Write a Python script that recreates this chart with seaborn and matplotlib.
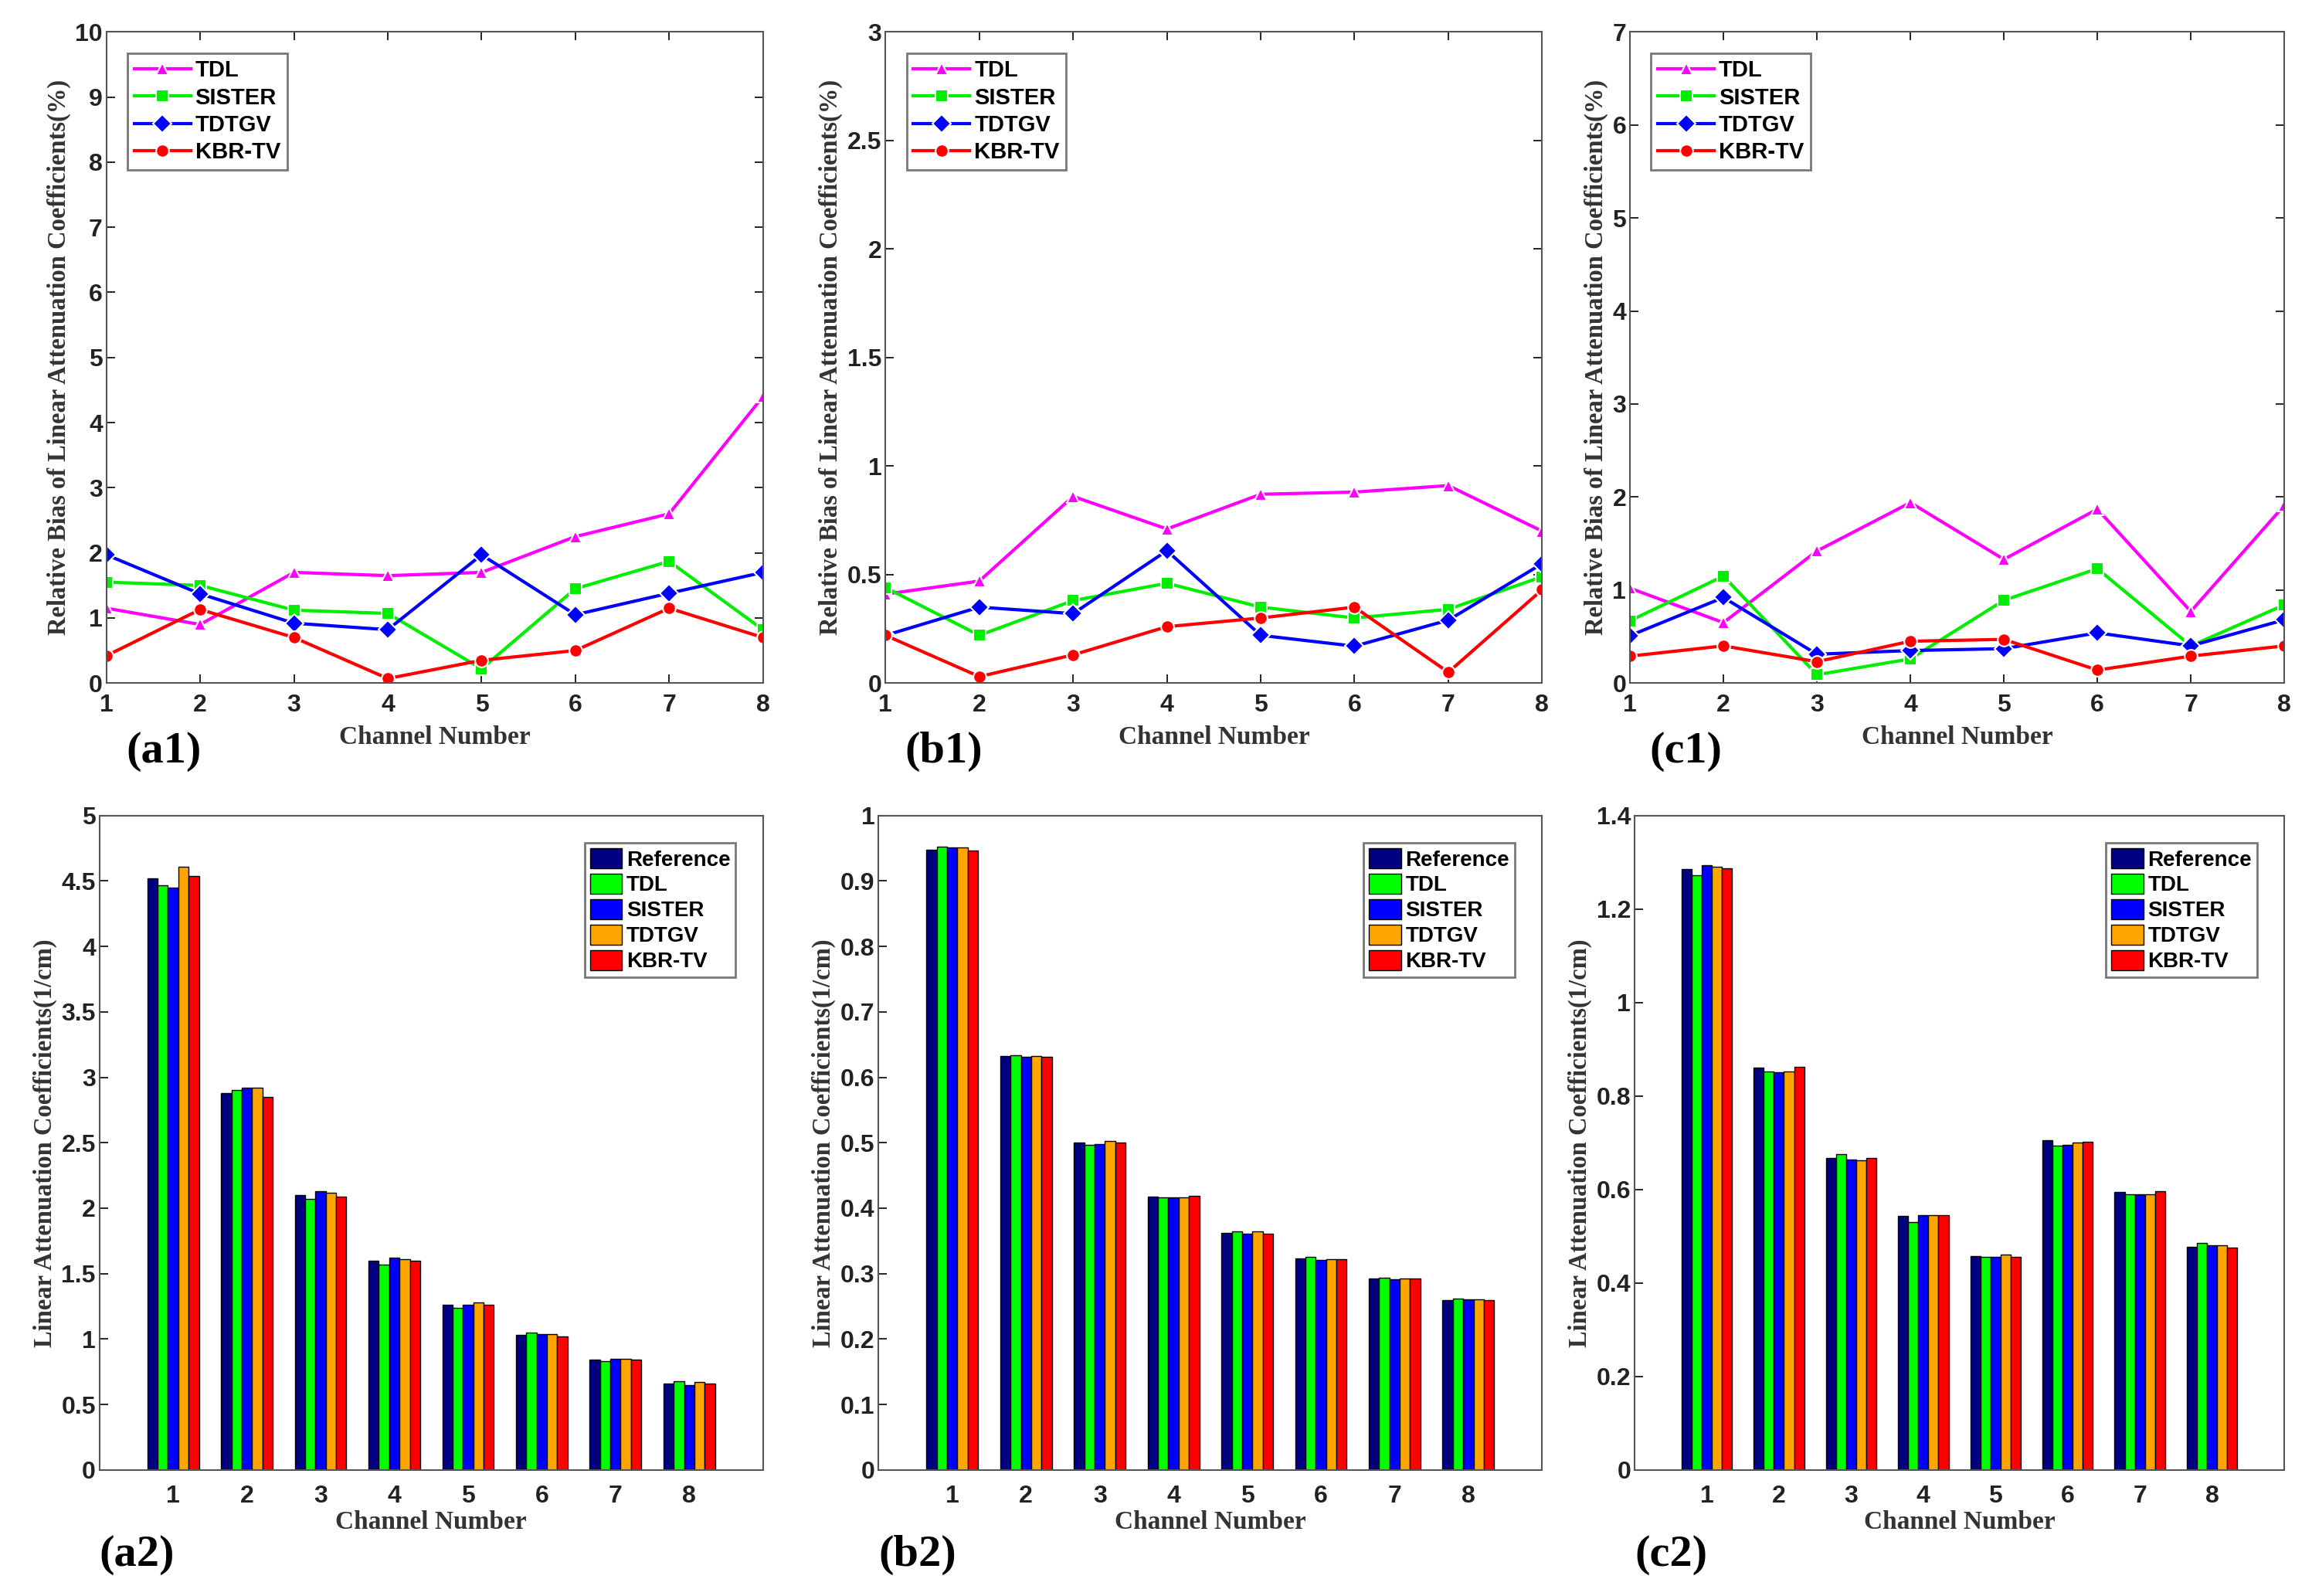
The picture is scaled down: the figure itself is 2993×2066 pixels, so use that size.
import numpy as np
import pandas as pd
import matplotlib
matplotlib.use("Agg")
import matplotlib.pyplot as plt
import seaborn as sns

channels = [1, 2, 3, 4, 5, 6, 7, 8]
methods = ["TDL", "SISTER", "TDTGV", "KBR-TV"]
bar_methods = ["Reference", "TDL", "SISTER", "TDTGV", "KBR-TV"]

a1_TDL = [1.15, 0.9, 1.7, 1.65, 1.7, 2.25, 2.6, 4.4]
a1_SISTER = [1.55, 1.5, 1.12, 1.07, 0.22, 1.45, 1.87, 0.82]
a1_TDTGV = [1.97, 1.37, 0.92, 0.82, 1.97, 1.05, 1.38, 1.7]
a1_KBR = [0.42, 1.13, 0.7, 0.07, 0.35, 0.5, 1.15, 0.7]

b1_TDL = [0.41, 0.47, 0.86, 0.71, 0.87, 0.88, 0.91, 0.70]
b1_SISTER = [0.44, 0.22, 0.38, 0.46, 0.35, 0.30, 0.34, 0.49]
b1_TDTGV = [0.22, 0.35, 0.32, 0.61, 0.22, 0.17, 0.29, 0.55]
b1_KBR = [0.22, 0.03, 0.13, 0.26, 0.30, 0.35, 0.05, 0.43]

c1_TDL = [1.02, 0.65, 1.42, 1.94, 1.33, 1.87, 0.77, 1.91]
c1_SISTER = [0.67, 1.15, 0.09, 0.26, 0.89, 1.23, 0.40, 0.84]
c1_TDTGV = [0.51, 0.92, 0.31, 0.35, 0.37, 0.54, 0.40, 0.68]
c1_KBR = [0.29, 0.40, 0.23, 0.45, 0.47, 0.14, 0.29, 0.40]

a2_Ref = [4.52, 2.88, 2.10, 1.60, 1.26, 1.03, 0.84, 0.66]
a2_TDL = [4.47, 2.90, 2.07, 1.57, 1.24, 1.05, 0.83, 0.68]
a2_SISTER = [4.45, 2.92, 2.13, 1.62, 1.26, 1.04, 0.85, 0.65]
a2_TDTGV = [4.61, 2.92, 2.12, 1.61, 1.28, 1.04, 0.85, 0.67]
a2_KBR = [4.54, 2.85, 2.09, 1.60, 1.26, 1.02, 0.84, 0.66]

b2_Ref = [0.948, 0.632, 0.500, 0.418, 0.362, 0.323, 0.292, 0.260]
b2_TDL = [0.952, 0.634, 0.497, 0.416, 0.365, 0.326, 0.294, 0.262]
b2_SISTER = [0.951, 0.631, 0.498, 0.416, 0.361, 0.321, 0.291, 0.261]
b2_TDTGV = [0.951, 0.633, 0.503, 0.416, 0.364, 0.322, 0.292, 0.261]
b2_KBR = [0.946, 0.631, 0.500, 0.419, 0.361, 0.322, 0.292, 0.259]

c2_Ref = [1.285, 0.860, 0.667, 0.543, 0.458, 0.705, 0.594, 0.478]
c2_TDL = [1.272, 0.853, 0.675, 0.531, 0.455, 0.694, 0.590, 0.486]
c2_SISTER = [1.293, 0.850, 0.664, 0.545, 0.455, 0.695, 0.590, 0.480]
c2_TDTGV = [1.290, 0.853, 0.663, 0.545, 0.460, 0.700, 0.590, 0.480]
c2_KBR = [1.287, 0.862, 0.667, 0.545, 0.456, 0.702, 0.596, 0.476]

line_colors = {"TDL": "#ff00ff", "SISTER": "#00ee00", "TDTGV": "#0000ff", "KBR-TV": "#ff0000"}
line_markers = {"TDL": "^", "SISTER": "s", "TDTGV": "D", "KBR-TV": "o"}
bar_colors = ["#000080", "#00ff00", "#0000ff", "#ffa500", "#ff0000"]

fig = plt.figure(figsize=(29.93, 20.66), dpi=100)
serif = "Liberation Serif"
sans = "Liberation Sans"

top = [
    ([0.046, 0.572, 0.284, 0.408], [a1_TDL, a1_SISTER, a1_TDTGV, a1_KBR], 10, 1, "(a1)"),
    ([0.383, 0.572, 0.284, 0.408], [b1_TDL, b1_SISTER, b1_TDTGV, b1_KBR], 3, 0.5, "(b1)"),
    ([0.705, 0.572, 0.283, 0.408], [c1_TDL, c1_SISTER, c1_TDTGV, c1_KBR], 7, 1, "(c1)"),
]
for rect, series, ymax, step, lab in top:
    ax = fig.add_axes(rect)
    df = pd.DataFrame({"Channel": channels * 4,
                       "Value": sum(series, []),
                       "Method": np.repeat(methods, 8)})
    sns.lineplot(data=df, x="Channel", y="Value", hue="Method", style="Method",
                 palette=line_colors, markers=line_markers, dashes=False,
                 markersize=12, linewidth=3, ax=ax, markeredgewidth=1.5)
    ax.set_xlim(1, 8)
    ax.set_ylim(0, ymax)
    ax.set_xticks(channels)
    ax.set_yticks(np.arange(0, ymax + 1e-9, step))
    ax.yaxis.set_major_formatter(matplotlib.ticker.FuncFormatter(lambda v, p: f"{v:g}"))
    ax.tick_params(direction="in", length=8, labelsize=23, top=True, right=True, width=1.2)
    ax.tick_params(axis="x", pad=10)
    for t in ax.get_xticklabels() + ax.get_yticklabels():
        t.set_fontfamily(sans); t.set_fontweight("bold"); t.set_color("#222222")
    ax.set_xlabel("Channel Number", fontsize=24, fontweight="bold", fontfamily=serif, color="#333333",
                  labelpad=8)
    ax.set_ylabel("Relative Bias of Linear Attenuation Coefficients(%)", fontsize=23.5,
                  fontweight="bold", fontfamily=serif, color="#333333", labelpad=4)
    for s in ax.spines.values():
        s.set_color("#555555"); s.set_linewidth(1.5)
    leg = ax.legend(loc="upper left", prop={"family": sans, "weight": "bold", "size": 21},
                    frameon=True, fancybox=False, edgecolor="#555555", handlelength=2.5,
                    borderpad=0.3, labelspacing=0.25, handletextpad=0.2,
                    bbox_to_anchor=(0.015, 0.985))
    leg.get_frame().set_linewidth(2)
    leg.set_title(None)
    ax.text(0.03, -0.105, lab, transform=ax.transAxes, fontsize=42, fontweight="bold",
            fontfamily=serif, va="center", ha="left")

bottom = [
    ([0.043, 0.079, 0.287, 0.410], [a2_Ref, a2_TDL, a2_SISTER, a2_TDTGV, a2_KBR], 5, 0.5, "(a2)"),
    ([0.380, 0.079, 0.287, 0.410], [b2_Ref, b2_TDL, b2_SISTER, b2_TDTGV, b2_KBR], 1, 0.1, "(b2)"),
    ([0.707, 0.079, 0.281, 0.410], [c2_Ref, c2_TDL, c2_SISTER, c2_TDTGV, c2_KBR], 1.4, 0.2, "(c2)"),
]
for rect, series, ymax, step, lab in bottom:
    ax = fig.add_axes(rect)
    df = pd.DataFrame({"Channel": [str(c) for c in channels] * 5,
                       "Value": sum(series, []),
                       "Method": np.repeat(bar_methods, 8)})
    sns.barplot(data=df, x="Channel", y="Value", hue="Method", palette=bar_colors,
                edgecolor="black", linewidth=1.0, width=0.7, ax=ax, saturation=1)
    ax.set_xlim(-1.0, 8.0)
    ax.set_ylim(0, ymax)
    ax.set_yticks(np.arange(0, ymax + 1e-9, step))
    ax.yaxis.set_major_formatter(matplotlib.ticker.FuncFormatter(lambda v, p: f"{round(v, 2):g}"))
    ax.tick_params(direction="in", length=8, labelsize=23, top=False, right=False, width=1.2)
    ax.tick_params(axis="x", length=0, pad=14)
    for t in ax.get_xticklabels() + ax.get_yticklabels():
        t.set_fontfamily(sans); t.set_fontweight("bold"); t.set_color("#222222")
    ax.set_xlabel("Channel Number", fontsize=24, fontweight="bold", fontfamily=serif, color="#333333",
                  labelpad=2)
    ax.set_ylabel("Linear Attenuation Coefficients(1/cm)", fontsize=23.5,
                  fontweight="bold", fontfamily=serif, color="#333333")
    for s in ax.spines.values():
        s.set_color("#555555"); s.set_linewidth(1.5)
    leg = ax.legend(loc="upper right", prop={"family": sans, "weight": "bold", "size": 20},
                    frameon=True, fancybox=False, edgecolor="#555555", handlelength=1.5,
                    handleheight=1.1, borderpad=0.25, labelspacing=0.15, handletextpad=0.2,
                    bbox_to_anchor=(0.975, 0.975))
    leg.get_frame().set_linewidth(2)
    leg.set_title(None)
    ax.text(0.0, -0.13, lab, transform=ax.transAxes, fontsize=42, fontweight="bold",
            fontfamily=serif, va="center", ha="left")

fig.savefig("out.png", dpi=100, facecolor="white")
